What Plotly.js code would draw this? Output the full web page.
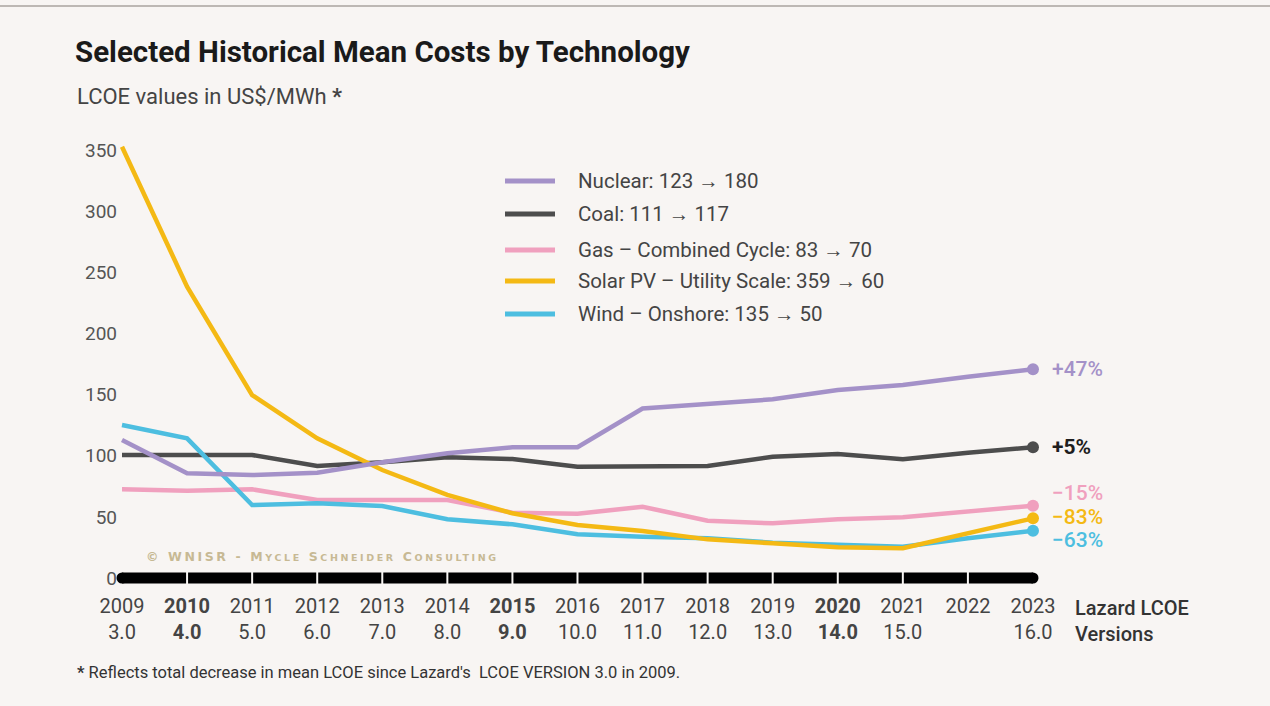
<!DOCTYPE html>
<html>
<head>
<meta charset="utf-8">
<script src="https://cdn.plot.ly/plotly-3.0.1.min.js"></script>
<style>html,body{margin:0;padding:0;background:#f8f5f3;}#chart{width:1270px;height:706px;}</style>
</head>
<body>
<div id="chart"></div>
<script>
// ---- data ----
const years = [2009,2010,2011,2012,2013,2014,2015,2016,2017,2018,2019,2020,2021,2022,2023];
const versionLabels = ['3.0','4.0','5.0','6.0','7.0','8.0','9.0','10.0','11.0','12.0','13.0','14.0','15.0','','16.0'];
const boldYears = [2010,2015,2020];
const nuclear = [112.8,85.6,84.2,86.1,94.6,102.0,106.9,106.9,138.6,142.3,146.1,153.7,157.8,164.6,170.7];
const coal    = [100.6,100.6,100.6,91.6,94.6,98.7,97.3,91.0,91.6,91.6,99.2,101.4,97.1,102.5,106.9];
const gas     = [72.5,71.4,72.5,63.8,63.8,63.8,53.4,52.6,58.3,46.9,44.7,48.0,49.6,54.2,59.1];
const solar   = [352.7,238.2,149.6,114.2,88.3,67.9,52.9,43.3,38.4,31.6,28.4,25.1,24.3,36.6,48.8];
const wind    = [125.1,114.2,59.7,61.1,58.9,48.0,43.9,35.7,33.8,32.5,28.9,27.0,25.6,32.5,38.7];
const seriesNames = ['Nuclear','Coal','Gas – Combined Cycle','Solar PV – Utility Scale','Wind – Onshore'];
const legendLabels = ['Nuclear: 123 → 180','Coal: 111 → 117','Gas – Combined Cycle: 83 → 70','Solar PV – Utility Scale: 359 → 60','Wind – Onshore: 135 → 50'];
const changeLabels = ['+47%','+5%','−15%','−83%','−63%'];
const yTicks = [0,50,100,150,200,250,300,350];

// ---- styling ----
const colors = ['#a491c8','#4d4d4d','#f0a0be','#f4b914','#4dbee0'];
const labelColors = ['#a491c8','#1e1e1e','#f0a0be','#f4b914','#4dbee0'];
const labelShift = [0,0,13,1,-9];
const series = [nuclear,coal,gas,solar,wind];
const drawOrder = [1,2,4,3,0];

const W=1270,H=706;
const M={l:118,r:211,t:138,b:118};
const pw=W-M.l-M.r, ph=H-M.t-M.b;
const px=p=>(p-M.l)/pw;
const py=p=>(H-M.b-p)/ph;
const ppu=1.2229, zeroPx=578, xppu=65.07, x0px=122;
const yRange=[-(H-M.b-zeroPx)/ppu,(zeroPx-M.t)/ppu];
const xRange=[years[0]-(x0px-M.l)/xppu, years[0]+(W-M.r-x0px)/xppu];
const FONT='Roboto, "Open Sans", sans-serif';

const traces=[];
// baseline bar
traces.push({x:years,y:years.map(()=>0),mode:'lines',line:{color:'#000',width:11},hoverinfo:'skip',showlegend:false,cliponaxis:false});
traces.push({x:[years[0],years[years.length-1]],y:[0,0],mode:'markers',marker:{color:'#000',size:11},hoverinfo:'skip',showlegend:false,cliponaxis:false});
traces.push({x:years.slice(1,-1),y:years.slice(1,-1).map(()=>0),mode:'markers',marker:{symbol:'line-ns',size:13,line:{color:'#f8f5f3',width:2}},hoverinfo:'skip',showlegend:false,cliponaxis:false});

drawOrder.forEach(i=>{
  traces.push({x:years,y:series[i],name:seriesNames[i],mode:'lines',line:{color:colors[i],width:4.5},showlegend:false,cliponaxis:false});
});
drawOrder.forEach(i=>{
  const n=years.length-1;
  traces.push({x:[years[n]],y:[series[i][n]],mode:'markers',marker:{color:colors[i],size:12},showlegend:false,hoverinfo:'skip',cliponaxis:false});
});

const ticktext=years.map((y,i)=>{
  const b=boldYears.includes(y);
  const v=versionLabels[i]||' ';
  return b?`<b>${y}</b><br><b>${v}</b>`:`${y}<br>${v}`;
});

const annotations=[];
const shapes=[];
// top border
shapes.push({type:'line',xref:'paper',yref:'paper',x0:px(0),x1:px(W),y0:py(6),y1:py(6),line:{color:'#bdb8b4',width:2}});
// subtitle
annotations.push({xref:'paper',yref:'paper',x:px(75),y:py(97),xanchor:'left',yanchor:'middle',showarrow:false,
  text:'LCOE values in US$/MWh <b>*</b>',font:{family:FONT,size:22,color:'#444'}});
// legend
const legY=[181,214,250,281,314];
legendLabels.forEach((t,i)=>{
  shapes.push({type:'line',xref:'paper',yref:'paper',x0:px(505),x1:px(555),y0:py(legY[i]),y1:py(legY[i]),line:{color:colors[i],width:5}});
  annotations.push({xref:'paper',yref:'paper',x:px(576),y:py(legY[i]),xanchor:'left',yanchor:'middle',showarrow:false,
    text:t,font:{family:FONT,size:20.5,color:'#444'}});
});
// end labels
changeLabels.forEach((t,i)=>{
  const n=years.length-1;
  annotations.push({x:years[n],y:series[i][n],xref:'x',yref:'y',xanchor:'left',yanchor:'middle',xshift:18,yshift:labelShift[i],showarrow:false,borderpad:0,
    text:i===1?`<b>${t}</b>`:t,font:{family:FONT,size:21,color:labelColors[i],weight:i===1?700:500}});
});
// x axis trailing label
annotations.push({xref:'paper',yref:'paper',x:px(1073),y:py(621),xanchor:'left',yanchor:'middle',align:'left',showarrow:false,
  text:'Lazard LCOE<br>Versions',font:{family:FONT,size:20,color:'#333',weight:500}});
// watermark
annotations.push({xref:'paper',yref:'paper',x:px(144),y:py(556),xanchor:'left',yanchor:'middle',showarrow:false,
  text:'<span style="letter-spacing:2.6px">© WNISR - M<span style="font-size:9.5px">YCLE</span> S<span style="font-size:9.5px">CHNEIDER</span> C<span style="font-size:9.5px">ONSULTING</span></span>',
  font:{family:'DejaVu Sans',size:12.5,color:'#c7b994',weight:700}});
// footnote
annotations.push({xref:'paper',yref:'paper',x:px(75),y:py(672),xanchor:'left',yanchor:'middle',showarrow:false,
  text:'<b>*</b> Reflects total decrease in mean LCOE since Lazard\'s  LCOE VERSION 3.0 in 2009.',font:{family:FONT,size:16.5,color:'#333'}});

const layout={
  width:W,height:H,margin:M,
  paper_bgcolor:'#f8f5f3',plot_bgcolor:'#f8f5f3',
  title:{text:'<b>Selected Historical Mean Costs by Technology</b>',xref:'container',yref:'container',x:75/W,xanchor:'left',y:1-52/H,yanchor:'middle',
    font:{family:FONT,size:29.5,color:'#1a1a1a'}},
  xaxis:{range:xRange,tickvals:years,ticktext:ticktext,showgrid:false,zeroline:false,showline:false,ticks:'',
    tickfont:{family:FONT,size:20,color:'#444'},ticklabelstandoff:4,fixedrange:true},
  yaxis:{range:yRange,tickvals:yTicks,showgrid:false,zeroline:false,showline:false,ticks:'',
    tickfont:{family:FONT,size:19,color:'#555'},fixedrange:true},
  showlegend:false,
  annotations:annotations,shapes:shapes,hovermode:false
};
Plotly.newPlot('chart',traces,layout,{displayModeBar:false,staticPlot:true});
</script>
</body>
</html>
